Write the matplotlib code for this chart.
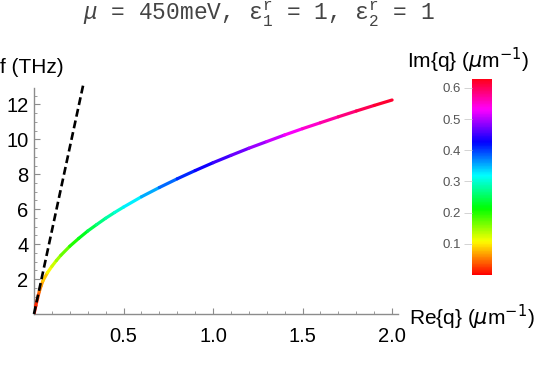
"""
plot.py - graphene plasmon dispersion, Re{q} vs f coloured by Im{q}.
"""

import matplotlib
matplotlib.use('Agg')
import matplotlib.pyplot as plt
import numpy as np
from matplotlib.collections import LineCollection
from matplotlib.ticker import MultipleLocator
from matplotlib.cm import ScalarMappable
from matplotlib.colors import Normalize

plt.rcParams['font.family'] = ['Liberation Sans', 'DejaVu Sans']
plt.rcParams['mathtext.fontset'] = 'custom'
plt.rcParams['mathtext.rm'] = 'Liberation Mono'
plt.rcParams['mathtext.it'] = 'Liberation Mono:italic'
plt.rcParams['mathtext.bf'] = 'Liberation Mono:bold'

# plasmon branch
re_q = [0.0, 0.01, 0.02, 0.03, 0.04, 0.05, 0.075, 0.1, 0.125, 0.15,
        0.2, 0.25, 0.3, 0.35, 0.4, 0.45, 0.5, 0.6, 0.7, 0.8,
        0.9, 1.0, 1.1, 1.2, 1.3, 1.4, 1.5, 1.6, 1.7, 1.8, 1.9, 2.0]
freq = [0.0, 0.46, 0.9, 1.3, 1.62, 1.9, 2.36, 2.73, 3.06, 3.36,
        3.88, 4.33, 4.75, 5.12, 5.48, 5.81, 6.12, 6.71, 7.24, 7.74,
        8.21, 8.66, 9.08, 9.49, 9.87, 10.25, 10.61, 10.95, 11.29, 11.62, 11.94, 12.25]
im_q = [0.0, 0.01, 0.025, 0.045, 0.06, 0.075, 0.095, 0.12, 0.14, 0.155,
        0.185, 0.215, 0.235, 0.255, 0.275, 0.29, 0.31, 0.34, 0.37, 0.395,
        0.42, 0.44, 0.46, 0.48, 0.50, 0.52, 0.54, 0.56, 0.575, 0.595, 0.61, 0.625]

# light line
light_q = [0.0, 0.274]
light_f = [0.0, 13.07]

im_max = 0.628
cbar_ticks = [0.1, 0.2, 0.3, 0.4, 0.5, 0.6]
x_ticks = [0.5, 1.0, 1.5, 2.0]
y_ticks = [2, 4, 6, 8, 10, 12]

AXIS_GRAY = '#8c8c8c'

fig = plt.figure(figsize=(5.42, 3.69), dpi=100)
ax = fig.add_axes([0.0627, 0.149, 0.6716, 0.6117])

ax.set_xlim(0, 2.033)
ax.set_ylim(0, 12.92)
for side in ['top', 'right']:
    ax.spines[side].set_visible(False)
for side in ['left', 'bottom']:
    ax.spines[side].set_color(AXIS_GRAY)
    ax.spines[side].set_linewidth(1.0)

ax.set_xticks(x_ticks)
ax.set_xticklabels(['%.1f' % t for t in x_ticks])
ax.set_yticks(y_ticks)
ax.xaxis.set_minor_locator(MultipleLocator(0.1))
ax.yaxis.set_minor_locator(MultipleLocator(0.5))
ax.tick_params(which='major', direction='in', length=4, width=0.8,
               color=AXIS_GRAY, labelsize=14.5, labelcolor='black')
ax.tick_params(which='minor', direction='in', length=2.2, width=0.6, color=AXIS_GRAY)
ax.tick_params(axis='x', which='major', pad=9)
ax.tick_params(axis='y', which='major', pad=4)

norm = Normalize(vmin=0, vmax=im_max)
cmap = plt.get_cmap('hsv')

pts = np.column_stack([re_q, freq]).reshape(-1, 1, 2)
segs = np.concatenate([pts[:-1], pts[1:]], axis=1)
seg_im = 0.5 * (np.array(im_q[:-1]) + np.array(im_q[1:]))
lc = LineCollection(segs, cmap=cmap, norm=norm, linewidths=2.3,
                    capstyle='round', joinstyle='round', zorder=3)
lc.set_array(seg_im)
ax.add_collection(lc)

ax.plot(light_q, light_f, color='black', lw=1.9, ls=(0, (3.0, 1.5)),
        zorder=4, clip_on=False)

# labels
fig.text(0.0, 0.818, 'f (THz)', ha='left', va='center', fontsize=15)
fig.text(0.7546, 0.141, r'Re{q} ($\mu$m$^{-1}$)', ha='left', va='center',
         fontsize=15, math_fontfamily='dejavusans')
fig.text(0.864, 0.835, r'Im{q} ($\mu$m$^{-1}$)', ha='center', va='center',
         fontsize=15, math_fontfamily='dejavusans')

fig.text(0.478, 0.962,
         r'$\mu$ = 450meV, $\mathrm{\varepsilon}_1^\mathrm{r}$ = 1, $\mathrm{\varepsilon}_2^\mathrm{r}$ = 1',
         ha='center', va='center', fontsize=16.5, color='#444444',
         family='Liberation Mono', math_fontfamily='custom')

# colour bar
cax = fig.add_axes([0.871, 0.2547, 0.0369, 0.531])
sm = ScalarMappable(norm=norm, cmap=cmap)
cb = fig.colorbar(sm, cax=cax, ticks=cbar_ticks)
cb.outline.set_visible(False)
cax.yaxis.set_ticks_position('left')
cax.tick_params(direction='out', length=6, width=0.6, color='#cccccc',
                labelsize=9.5, labelcolor='#555555', pad=2)
cax.minorticks_off()

fig.savefig('out.png', dpi=100, facecolor='white')
